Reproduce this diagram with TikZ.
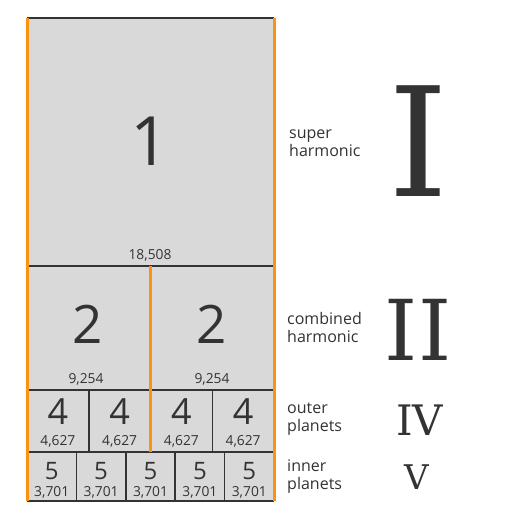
\documentclass[tikz,border=0pt]{standalone}
\usepackage{fontspec}
\setmainfont{Open Sans}
\newfontfamily\romfont{DejaVu Serif}
\definecolor{cellgray}{HTML}{D9D9D9}
\definecolor{barorange}{HTML}{FA9410}
\definecolor{inkgray}{HTML}{333333}
\tikzset{
  rule/.style={draw=inkgray, line width=1.5pt},
  bar/.style={draw=barorange, line width=3pt},
  num/.style={text=inkgray, inner sep=0pt},
  small/.style={num, font=\fontsize{13.8}{14}\selectfont},
  tier/.style={num, anchor=west, align=left, font=\fontsize{16}{18}\selectfont},
  roman/.style={num, font=\romfont}
}

\begin{document}
\begin{tikzpicture}[x=1pt, y=-1pt]
		%%%%% START %%%%%
		\useasboundingbox (0, 0) rectangle (508, 521);
		\fill[cellgray] (27, 18) rectangle (274, 501);
		
		% row rules
		\foreach \yy in {18, 266, 390, 452, 501}
			\draw[rule] (27, \yy) -- (274, \yy);
		
		% cell dividers
		\foreach \xx in {88.75, 212.25}
			\draw[rule] (\xx, 390) -- (\xx, 452);
		\foreach \xx in {76.4, 125.8, 175.2, 224.6}
			\draw[rule] (\xx, 452) -- (\xx, 501);
		
		% orange bars
		\draw[bar] (27, 18) -- (27, 501);
		\draw[bar] (274, 18) -- (274, 501);
		\draw[bar] (150.5, 266) -- (150.5, 452);
		
		% numbers
		\node[num, font=\fontsize{68}{68}\selectfont] (one) at (150, 141) {1};
		\node[small] (oneval) at (150, 255) {18,508};
		
		\node[num, font=\fontsize{53}{53}\selectfont] (twoa) at (88, 324) {2};
		\node[num, font=\fontsize{53}{53}\selectfont] (twob) at (212, 324) {2};
		\node[small] (twoaval) at (86, 379) {9,254};
		\node[small] (twobval) at (212, 379) {9,254};
		
		\foreach \xx [count=\i] in {57.9, 119.6, 181.4, 243.1} {
			\node[num, font=\fontsize{36}{36}\selectfont] (four\i) at (\xx, 412) {4};
			\node[small] (fourval\i) at (\xx, 441) {4,627};
		}
		\foreach \xx [count=\i] in {51.7, 101.1, 150.5, 199.9, 249.3} {
			\node[num, font=\fontsize{24}{24}\selectfont] (five\i) at (\xx, 471) {5};
			\node[small] (fiveval\i) at (\xx, 492) {3,701};
		}
		
		% tier labels
		\node[tier] (super) at (289, 143) {super\\harmonic};
		\node[tier] (combined) at (287, 327.5) {combined\\harmonic};
		\node[tier] (outer) at (287, 419.5) {outer\\planets};
		\node[tier] (inner) at (287, 476.5) {inner\\planets};
		
		% roman numerals
		\node[roman, font=\romfont\fontsize{152}{152}\selectfont] (romI) at (419, 141.5) {I};
		\node[roman, font=\romfont\fontsize{84}{84}\selectfont] (romII) at (418, 329.5) {II};
		\node[roman, font=\romfont\fontsize{42}{42}\selectfont] (romIV) at (419.5, 420.5) {IV};
		\node[roman, font=\romfont\fontsize{34}{34}\selectfont] (romV) at (417, 477.5) {V};
		%%%%% END %%%%%
\end{tikzpicture}
\end{document}
